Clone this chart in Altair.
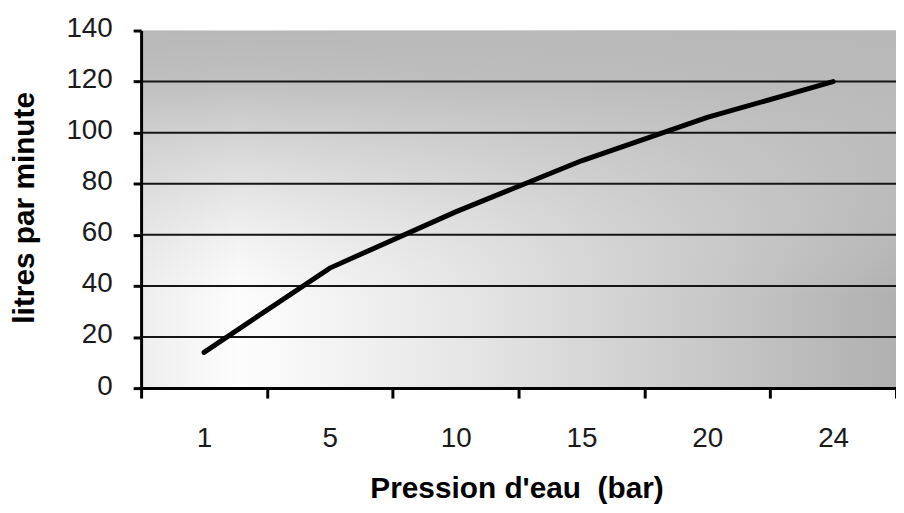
import altair as alt
import pandas as pd

# Data
pression = ["1", "5", "10", "15", "20", "24"]
debit = [14, 47, 69, 89, 106, 120]
y_ticks = [0, 20, 40, 60, 80, 100, 120, 140]
grid_values = [20, 40, 60, 80, 100, 120]

W, H = 760, 360

df = pd.DataFrame({"pression": pression, "debit": debit, "idx": list(range(len(pression)))})
grid_df = pd.DataFrame({"debit": grid_values})
one = pd.DataFrame({"a": [0]})

xscale = alt.Scale(domain=pression, paddingInner=0, paddingOuter=0)
yscale = alt.Scale(domain=[0, 140], nice=False)

h_grad = {
    "gradient": "linear", "x1": 0, "y1": 0, "x2": 1, "y2": 0,
    "stops": [
        {"offset": 0.0, "color": "#eeeeee"},
        {"offset": 0.13, "color": "#fdfdfd"},
        {"offset": 0.45, "color": "#e4e4e4"},
        {"offset": 0.75, "color": "#c8c8c8"},
        {"offset": 1.0, "color": "#b0b0b0"},
    ],
}
v_grad = {
    "gradient": "linear", "x1": 0, "y1": 0, "x2": 0, "y2": 1,
    "stops": [
        {"offset": 0.0, "color": "rgba(184,184,184,1)"},
        {"offset": 0.15, "color": "rgba(186,186,186,0.9)"},
        {"offset": 0.45, "color": "rgba(200,200,200,0.45)"},
        {"offset": 0.75, "color": "rgba(220,220,220,0.0)"},
        {"offset": 1.0, "color": "rgba(220,220,220,0.0)"},
    ],
}

y_axis = alt.Axis(
    title="litres par minute", values=y_ticks, grid=False,
    tickSize=8, labelPadding=21, labelOffset=-2,
    titleAngle=270, titleX=-108, titleY=178, titleBaseline="alphabetic",
    titleAlign="center", titleFontSize=30, zindex=1,
)

bg_h = alt.Chart(one).mark_rect(fill=h_grad, strokeWidth=0).encode(
    x=alt.value(0), x2=alt.value(W), y=alt.value(0), y2=alt.value(H)
)
bg_v = alt.Chart(one).mark_rect(fill=v_grad, strokeWidth=0).encode(
    x=alt.value(0), x2=alt.value(W), y=alt.value(0), y2=alt.value(H)
)

grid = alt.Chart(grid_df).mark_rule(color="#151515", strokeWidth=2).encode(
    y=alt.Y("debit:Q", scale=yscale, axis=y_axis)
)

line = alt.Chart(df).mark_line(color="#000000", strokeWidth=5, strokeCap="round").encode(
    x=alt.X(
        "pression:O", scale=xscale, sort=pression,
        axis=alt.Axis(
            title="Pression d'eau\u00a0 (bar)", labelAngle=0, tickBand="extent",
            tickSize=10, labelPadding=49, labelBaseline="alphabetic",
            titleX=378, titleY=110, titleBaseline="alphabetic", titleAlign="center",
            titleFontSize=30, zindex=1,
        ),
    ),
    y=alt.Y("debit:Q", scale=yscale, axis=y_axis),
    order=alt.Order("idx:Q"),
)

chart = alt.layer(bg_h, bg_v, grid, line).properties(
    width=W, height=H,
    autosize=alt.AutoSizeParams(type="none"),
    padding={"left": 134, "top": 21, "right": 0, "bottom": 116},
    background="white",
).configure_view(stroke=None).configure_axis(
    domainColor="#000000", domainWidth=3, tickColor="#000000", tickWidth=3,
    labelFont="Liberation Sans", labelFontSize=28, labelColor="#1a1a1a",
    titleFont="Liberation Sans", titleFontWeight="bold", titleColor="#000000",
)

chart.save("out.html", embed_options={"renderer": "svg", "actions": False})
